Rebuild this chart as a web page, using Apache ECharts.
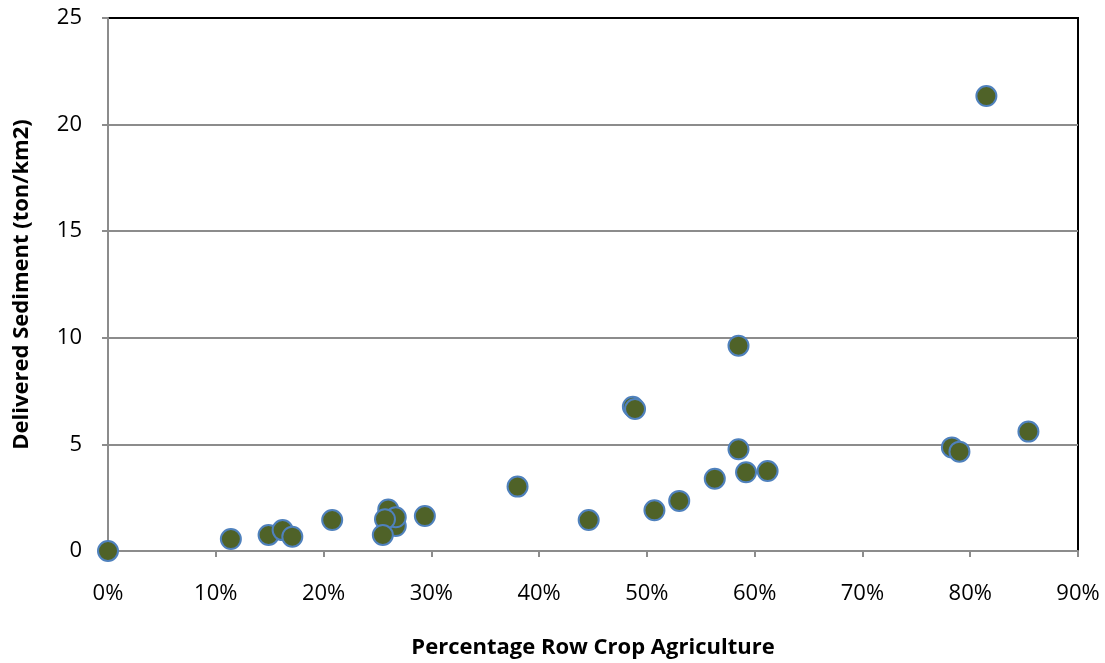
<!DOCTYPE html>
<html>
<head>
<meta charset="utf-8">
<script src="https://cdn.jsdelivr.net/npm/echarts@6/dist/echarts.min.js"></script>
<style>
  html, body { margin: 0; padding: 0; background: #fff; }
  #chart { width: 1105px; height: 663px; }
</style>
</head>
<body>
<div id="chart"></div>
<script>
// percentage row crop agriculture (%)
const rowCropPct = [
    0, 11.4, 14.9, 16.2, 17.1, 20.8, 26.0, 26.7, 26.7, 25.7, 25.5, 29.4,
    38.0, 44.6, 48.7, 48.9, 50.7, 53.0, 56.3, 58.5, 58.5, 59.2, 61.2,
    78.3, 79.0, 85.4, 81.5
]
// delivered sediment (ton/km2)
const sediment = [
    0, 0.56, 0.75, 0.98, 0.67, 1.45, 1.95, 1.17, 1.58, 1.49, 0.75, 1.64,
    3.02, 1.45, 6.77, 6.66, 1.91, 2.35, 3.39, 4.77, 9.63, 3.69, 3.75,
    4.86, 4.66, 5.60, 21.34
]

const FONT = '"Open Sans", "Liberation Sans", sans-serif'
const GRID_GRAY = '#8c8c8c'

const chart = echarts.init(document.getElementById('chart'), null, { renderer: 'canvas' })

chart.setOption({
    animation: false,
    grid: {
        left: 108,
        right: 27,
        top: 18,
        bottom: 112,
        containLabel: false,
        outerBoundsMode: 'none',
        show: true,
        borderColor: '#000',
        borderWidth: 2,
        backgroundColor: 'transparent',
    },
    xAxis: {
        type: 'value',
        min: 0,
        max: 90,
        interval: 10,
        name: 'Percentage Row Crop Agriculture',
        nameLocation: 'middle',
        nameGap: 86,
        nameTextStyle: { fontFamily: FONT, fontSize: 22, fontWeight: 'bold', color: '#000' },
        axisLine: { show: true, onZero: false, lineStyle: { color: GRID_GRAY, width: 2 } },
        axisTick: { show: true, inside: false, length: 6, lineStyle: { color: GRID_GRAY, width: 2 } },
        axisLabel: { formatter: '{value}%', margin: 32, fontFamily: FONT, fontSize: 22, color: '#000' },
        splitLine: { show: false },
    },
    yAxis: {
        type: 'value',
        min: 0,
        max: 25,
        interval: 5,
        name: 'Delivered Sediment (ton/km2)',
        nameLocation: 'middle',
        nameGap: 75,
        nameRotate: 90,
        nameTextStyle: { fontFamily: FONT, fontSize: 22, fontWeight: 'bold', color: '#000' },
        axisLine: { show: true, onZero: false, lineStyle: { color: GRID_GRAY, width: 2 } },
        axisTick: { show: true, inside: false, length: 6, lineStyle: { color: GRID_GRAY, width: 2 } },
        axisLabel: { margin: 26, fontFamily: FONT, fontSize: 22, color: '#000' },
        splitLine: { show: true, showMaxLine: false, lineStyle: { color: GRID_GRAY, width: 2 } },
    },
    series: [
        {
            type: 'scatter',
            data: rowCropPct.map((x, i) => [x, sediment[i]]),
            symbol: 'circle',
            symbolSize: 20,
            clip: false,
            itemStyle: {
                color: '#4f6228',
                borderColor: '#4f81bd',
                borderWidth: 2,
                opacity: 1,
            },
        },
    ],
})
</script>
</body>
</html>
